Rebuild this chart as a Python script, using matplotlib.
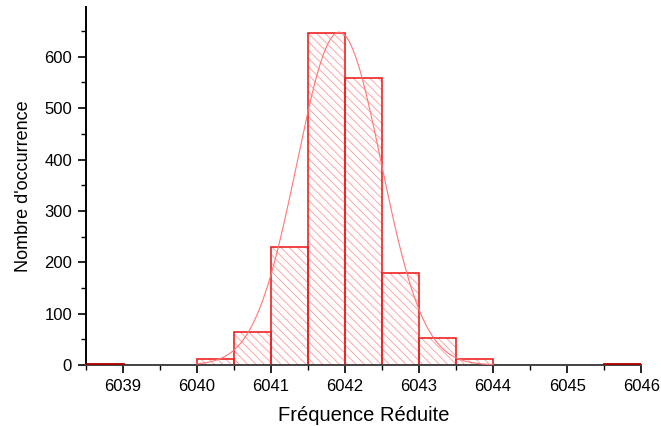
import matplotlib.pyplot as plt
import numpy as np

plt.rcParams["font.family"] = ["Liberation Sans", "DejaVu Sans"]
plt.rcParams["hatch.linewidth"] = 0.6

# histogram bins (left edges, width 0.5) and counts
bin_left = [6038.5, 6039.0, 6039.5, 6040.0, 6040.5, 6041.0, 6041.5, 6042.0,
            6042.5, 6043.0, 6043.5, 6044.0, 6044.5, 6045.0, 6045.5]
counts = [1, 0, 0, 11, 64, 229, 646, 558, 179, 52, 12, 0, 0, 0, 1]
bin_width = 0.5

# gaussian fit parameters
fit_amp = 648
fit_mean = 6041.92
fit_sigma = 0.57

fig = plt.figure(figsize=(6.61, 4.26), dpi=100)
ax = fig.add_axes([0.130, 0.1432, 0.840, 0.8404])

# hatch layer
ax.bar(bin_left, counts, width=bin_width, align="edge", color="none",
       edgecolor="#ff9999", hatch="\\\\\\\\", linewidth=0, zorder=1)
# outline layer
outline = ax.bar(bin_left, counts, width=bin_width, align="edge", color="none",
                 edgecolor="#ee2222", linewidth=1.2, zorder=2)
# near-empty bins show up as a dark red line over the axis
for patch, c in zip(outline, counts):
    if c == 1:
        patch.set_edgecolor("#aa0000")
        patch.set_linewidth(2)
        patch.set_zorder(3)

xs = np.linspace(6040.0, 6044.0, 400)
ys = fit_amp * np.exp(-(xs - fit_mean) ** 2 / (2 * fit_sigma ** 2))
ax.plot(xs, ys, color="#ff7777", linewidth=0.8, zorder=3)

ax.set_xlim(6038.5, 6046)
ax.set_ylim(0, 697)
ax.set_xticks(range(6039, 6047))
ax.set_xticks(np.arange(6038.5, 6046.1, 0.5), minor=True)
ax.set_yticks(range(0, 700, 100))
ax.set_yticks(range(0, 700, 50), minor=True)

for s in ["top", "right"]:
    ax.spines[s].set_visible(False)
ax.spines["left"].set_linewidth(1.4)
ax.spines["bottom"].set_linewidth(1.4)
ax.spines["bottom"].set_color("#444444")

ax.tick_params(which="major", direction="out", length=6, width=1.2,
               labelsize=12, pad=4)
ax.tick_params(which="minor", direction="out", length=3.5, width=1.0)

ax.set_xlabel("Fréquence Réduite", fontsize=14.5, labelpad=9)
ax.set_ylabel("Nombre d'occurrence", fontsize=13, labelpad=9)

fig.savefig("out.png", dpi=100)
